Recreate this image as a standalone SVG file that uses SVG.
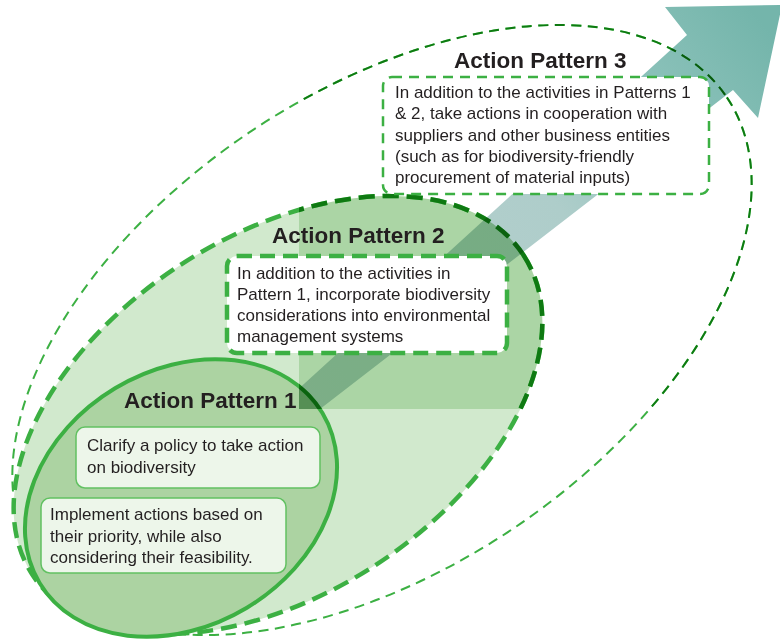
<svg xmlns="http://www.w3.org/2000/svg" xmlns:xlink="http://www.w3.org/1999/xlink" width="780" height="639" viewBox="0 0 780 639">
<defs>
<style>
.t{font-family:"Liberation Sans",Arial,Helvetica,sans-serif;font-size:17px;fill:#231f20}
.h{font-family:"Liberation Sans",Arial,Helvetica,sans-serif;font-size:22.5px;font-weight:bold;fill:#231f20}
.box2{fill:#fff;stroke:#3cb043;stroke-width:4.5;stroke-dasharray:15 8}
.box3{fill:#fff;stroke:#3cb043;stroke-width:2.5;stroke-dasharray:10 7}
.box1{fill:#edf6ea;stroke:#62c162;stroke-width:1.5}
.shade{mix-blend-mode:multiply}
</style>
<clipPath id="shadeClip"><rect x="299" y="0" width="481" height="409"/></clipPath>
<linearGradient id="arrowGrad" gradientUnits="userSpaceOnUse" x1="300" y1="400" x2="760" y2="20">
<stop offset="0" stop-color="#bad1d0"/>
<stop offset="0.54" stop-color="#aecdca"/>
<stop offset="0.78" stop-color="#8cc2ba"/>
<stop offset="1" stop-color="#74b5ab"/>
</linearGradient>
</defs>

<g id="regions">
<ellipse id="region3" cx="382" cy="330" rx="416" ry="238" transform="rotate(-34 382 330)" fill="none" stroke="#3cb043" stroke-width="2" stroke-dasharray="10 6.5"/>
<ellipse id="region2" cx="278" cy="415" rx="293" ry="179" transform="rotate(-33 278 415)" fill="#d1e9cd" stroke="#3cb043" stroke-width="4.5" stroke-dasharray="16 8"/>
<ellipse id="region1" cx="181" cy="498" rx="165" ry="128" transform="rotate(-31 181 498)" fill="#acd3a2" stroke="#3cb043" stroke-width="4"/>
</g>

<g id="shading" class="shade" clip-path="url(#shadeClip)">
<use xlink:href="#regions" href="#regions"/>
</g>

<g id="connectors">
<polygon id="progress-arrow" class="shade" clip-path="url(#shadeClip)" points="687,35 665,7 782,5 758,118 733,90 34,630" fill="url(#arrowGrad)"/>
</g>

<g id="pattern3">
<text class="h" x="454" y="68">Action Pattern 3</text>
<rect class="box3" x="383" y="77" width="326" height="117" rx="9"/>
<text class="t" x="395" y="98">In addition to the activities in Patterns 1</text>
<text class="t" x="395" y="119.3">&amp; 2, take actions in cooperation with</text>
<text class="t" x="395" y="140.6">suppliers and other business entities</text>
<text class="t" x="395" y="161.9">(such as for biodiversity-friendly</text>
<text class="t" x="395" y="183.2">procurement of material inputs)</text>
</g>

<g id="pattern2">
<text class="h" x="272" y="243">Action Pattern 2</text>
<rect class="box2" x="227" y="256" width="280" height="97" rx="10"/>
<text class="t" x="237" y="279">In addition to the activities in</text>
<text class="t" x="237" y="300">Pattern 1, incorporate biodiversity</text>
<text class="t" x="237" y="321">considerations into environmental</text>
<text class="t" x="237" y="342">management systems</text>
</g>

<g id="pattern1">
<text class="h" x="124" y="408">Action Pattern 1</text>
<g id="pattern1-policy">
<rect class="box1" x="76" y="427" width="244" height="61" rx="9"/>
<text class="t" x="87" y="451">Clarify a policy to take action</text>
<text class="t" x="87" y="473">on biodiversity</text>
</g>
<g id="pattern1-implement">
<rect class="box1" x="41" y="498" width="245" height="75" rx="9"/>
<text class="t" x="50" y="520">Implement actions based on</text>
<text class="t" x="50" y="541.5">their priority, while also</text>
<text class="t" x="50" y="563">considering their feasibility.</text>
</g>
</g>
</svg>
